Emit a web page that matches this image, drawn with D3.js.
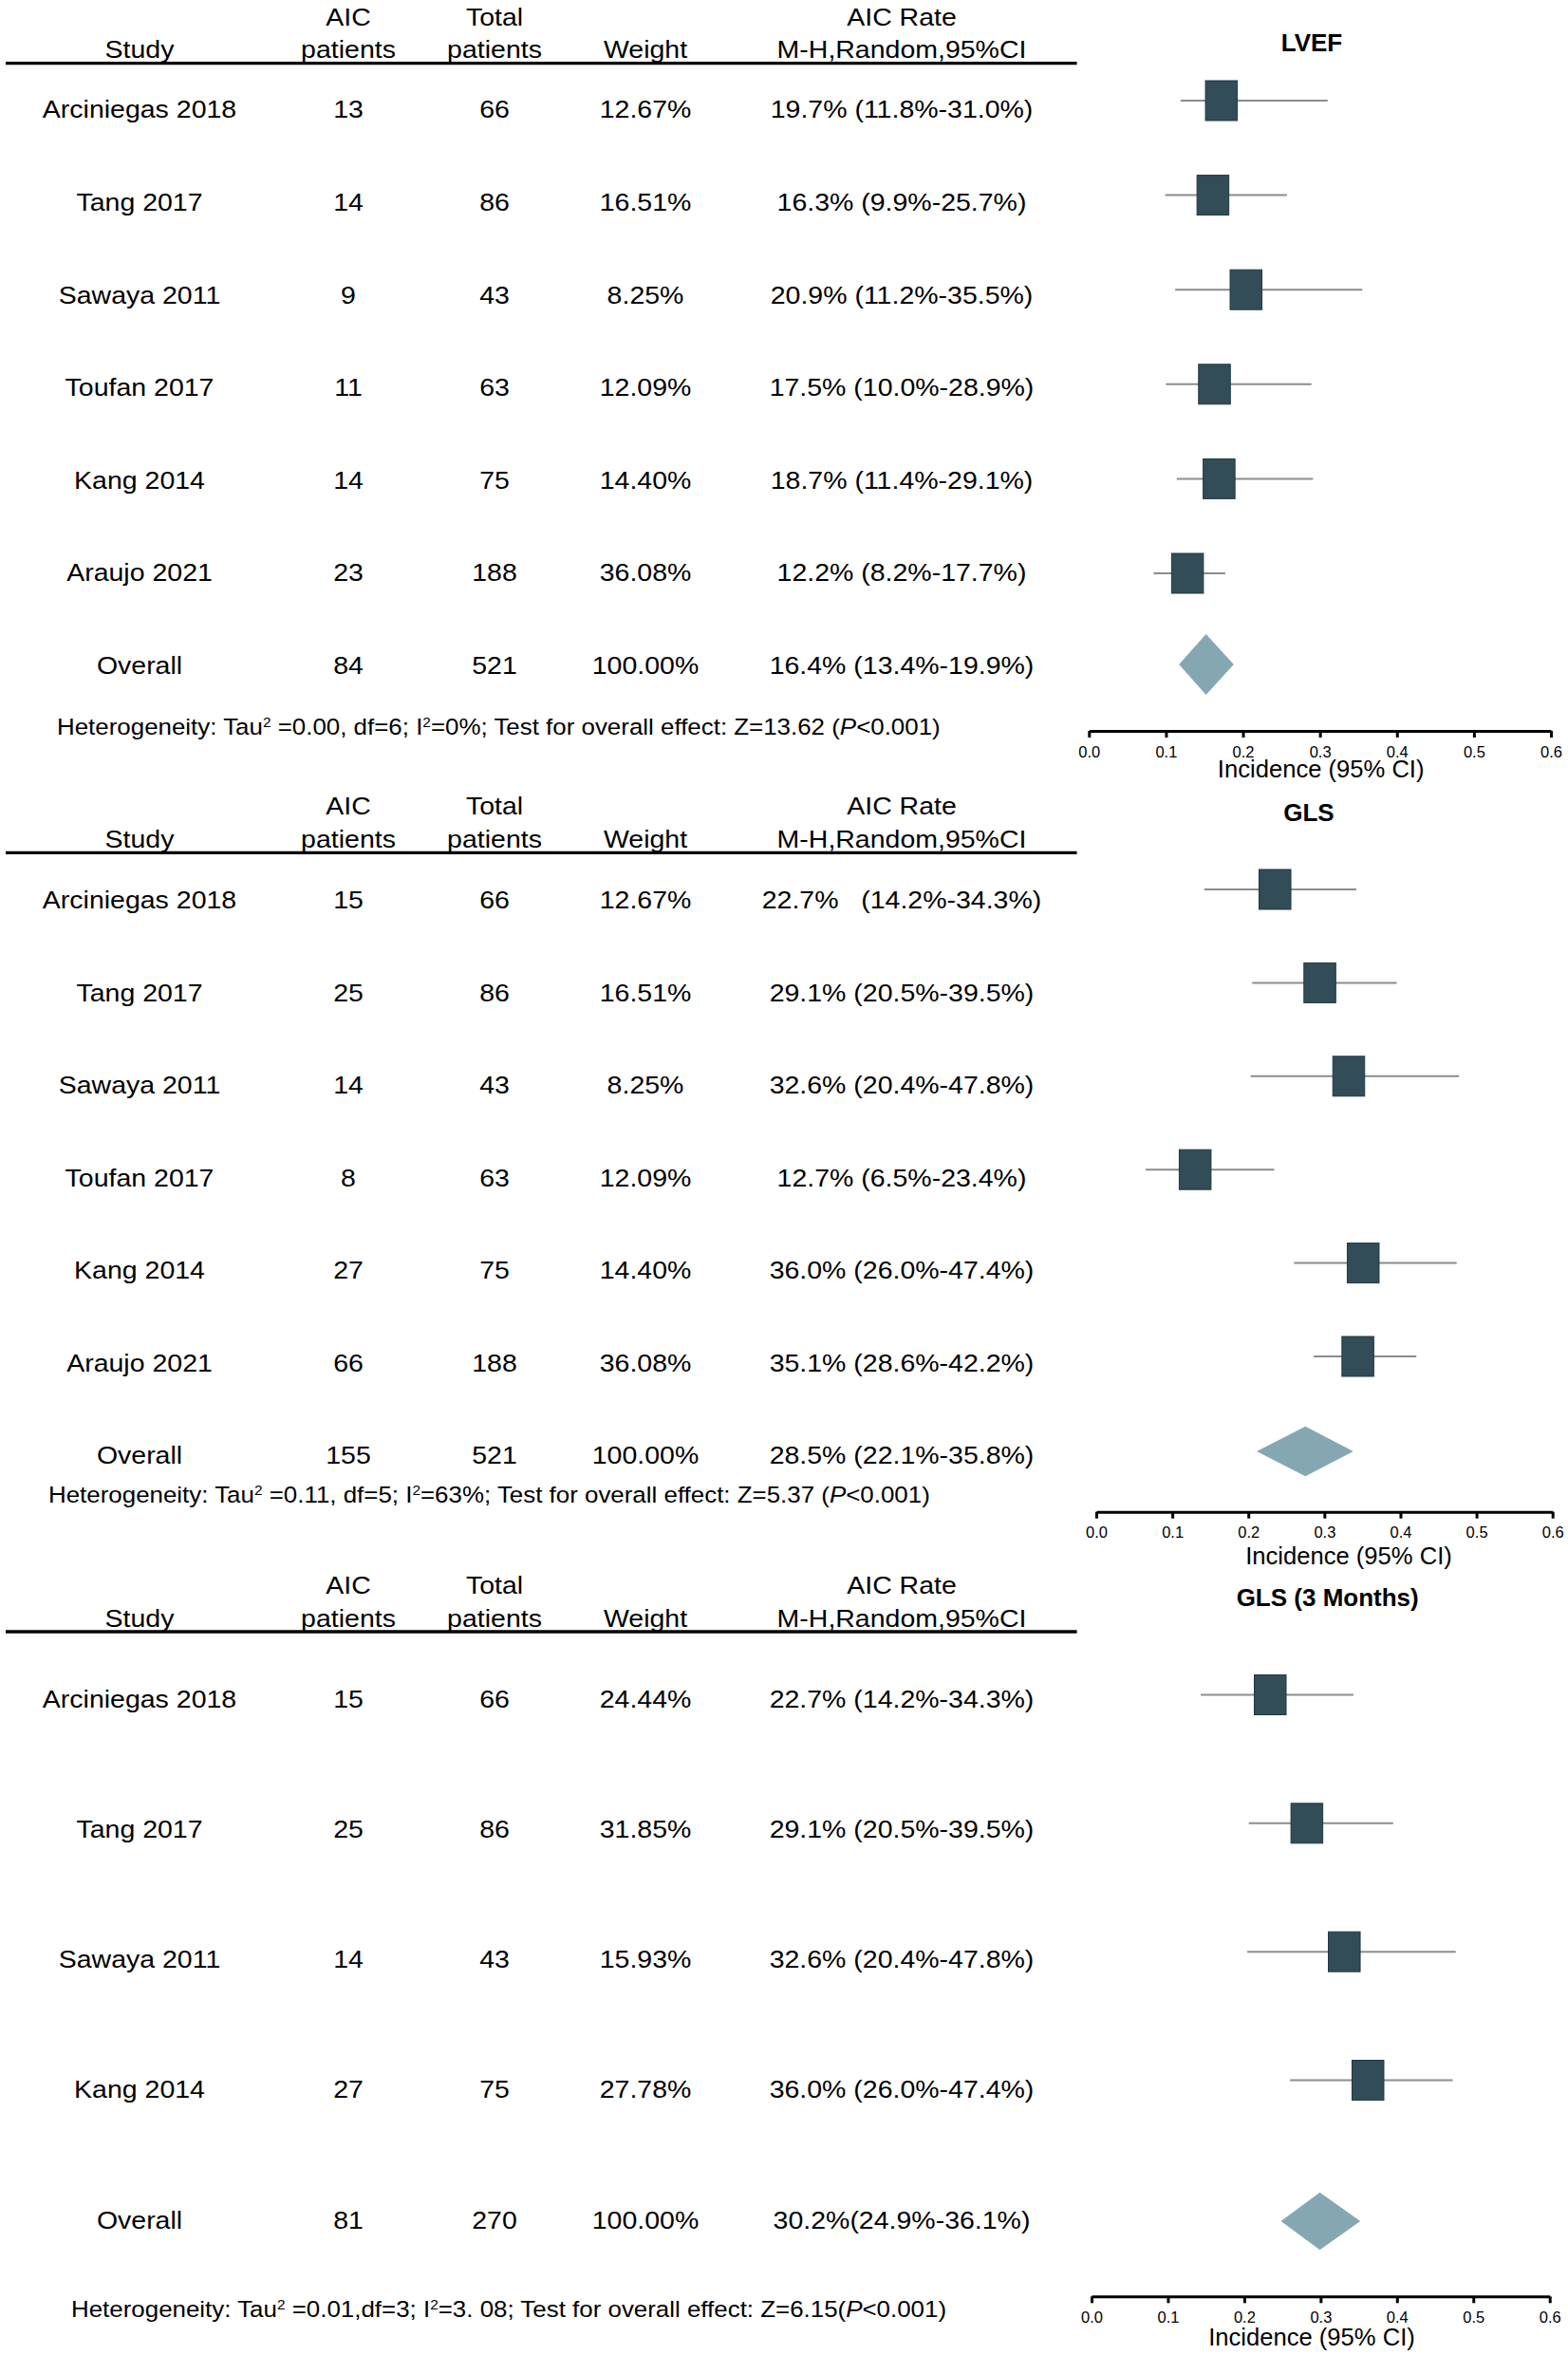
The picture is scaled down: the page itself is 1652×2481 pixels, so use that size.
<!DOCTYPE html>
<html>
<head>
<meta charset="utf-8">
<script src="https://cdn.jsdelivr.net/npm/d3@7"></script>
<style>
    body { margin: 0; background: #fff; }
    svg text { font-family: "Liberation Sans", Arial, sans-serif; fill: #000; }
</style>
</head>
<body>
<div id="chart"></div>
<script>
// 表のデータ (LVEF)
const studiesA = ["Arciniegas 2018", "Tang 2017", "Sawaya 2011", "Toufan 2017", "Kang 2014", "Araujo 2021"];
const aicA = [13, 14, 9, 11, 14, 23];
const totalA = [66, 86, 43, 63, 75, 188];
const weightA = ["12.67%", "16.51%", "8.25%", "12.09%", "14.40%", "36.08%"];
const rateA = ["19.7% (11.8%-31.0%)", "16.3% (9.9%-25.7%)", "20.9% (11.2%-35.5%)", "17.5% (10.0%-28.9%)", "18.7% (11.4%-29.1%)", "12.2% (8.2%-17.7%)"];
const estA = [0.172, 0.161, 0.204, 0.163, 0.169, 0.128];
const loA = [0.119, 0.099, 0.112, 0.100, 0.114, 0.084];
const hiA = [0.310, 0.257, 0.355, 0.289, 0.291, 0.177];
const overallA = ["Overall", 84, 521, "100.00%", "16.4% (13.4%-19.9%)"];
const pooledA = [0.117, 0.152, 0.188];
const hetA = "Heterogeneity: Tau^2 =0.00, df=6; I^2=0%; Test for overall effect: Z=13.62 (*P*<0.001)";

// GLS
const studiesB = ["Arciniegas 2018", "Tang 2017", "Sawaya 2011", "Toufan 2017", "Kang 2014", "Araujo 2021"];
const aicB = [15, 25, 14, 8, 27, 66];
const totalB = [66, 86, 43, 63, 75, 188];
const weightB = ["12.67%", "16.51%", "8.25%", "12.09%", "14.40%", "36.08%"];
const rateB = ["22.7%   (14.2%-34.3%)", "29.1% (20.5%-39.5%)", "32.6% (20.4%-47.8%)", "12.7% (6.5%-23.4%)", "36.0% (26.0%-47.4%)", "35.1% (28.6%-42.2%)"];
const estB = [0.235, 0.294, 0.332, 0.130, 0.351, 0.344];
const loB = [0.142, 0.205, 0.203, 0.065, 0.260, 0.286];
const hiB = [0.342, 0.395, 0.477, 0.234, 0.474, 0.421];
const overallB = ["Overall", 155, 521, "100.00%", "28.5% (22.1%-35.8%)"];
const pooledB = [0.211, 0.275, 0.338];
const hetB = "Heterogeneity: Tau^2 =0.11, df=5; I^2=63%; Test for overall effect: Z=5.37 (*P*<0.001)";

// GLS (3 Months)
const studiesC = ["Arciniegas 2018", "Tang 2017", "Sawaya 2011", "Kang 2014"];
const aicC = [15, 25, 14, 27];
const totalC = [66, 86, 43, 75];
const weightC = ["24.44%", "31.85%", "15.93%", "27.78%"];
const rateC = ["22.7% (14.2%-34.3%)", "29.1% (20.5%-39.5%)", "32.6% (20.4%-47.8%)", "36.0% (26.0%-47.4%)"];
const estC = [0.234, 0.282, 0.331, 0.362];
const loC = [0.143, 0.206, 0.204, 0.260];
const hiC = [0.343, 0.395, 0.477, 0.473];
const overallC = ["Overall", 81, 270, "100.00%", "30.2%(24.9%-36.1%)"];
const pooledC = [0.248, 0.299, 0.352];
const hetC = "Heterogeneity: Tau^2 =0.01,df=3; I^2=3. 08; Test for overall effect: Z=6.15(*P*<0.001)";

const headTop = ["", "AIC", "Total", "", "AIC Rate"];
const headBottom = ["Study", "patients", "patients", "Weight", "M-H,Random,95%CI"];
const ticks = [0, 0.1, 0.2, 0.3, 0.4, 0.5, 0.6];
const axisLabel = "Incidence (95% CI)";

const panels = [
    { title: "LVEF", studies: studiesA, aic: aicA, total: totalA, weight: weightA, rate: rateA,
      est: estA, lo: loA, hi: hiA, overall: overallA, pooled: pooledA, het: hetA },
    { title: "GLS", studies: studiesB, aic: aicB, total: totalB, weight: weightB, rate: rateB,
      est: estB, lo: loB, hi: hiB, overall: overallB, pooled: pooledB, het: hetB },
    { title: "GLS (3 Months)", studies: studiesC, aic: aicC, total: totalC, weight: weightC, rate: rateC,
      est: estC, lo: loC, hi: hiC, overall: overallC, pooled: pooledC, het: hetC }
];

// レイアウト
const layouts = [
    { line: 66.7, tableY: [115.5, 701], plotY: [106, 604], diaY: 700, axisY: 770, axisX: [1147.3, 1634],
      axisTitle: [1391.7, 819], diaH: 64, title: [1382, 54], het: [60, 774] },
    { line: 898.3, tableY: [948, 1533.4], plotY: [937, 1429], diaY: 1529, axisY: 1592.7, axisX: [1155, 1635.7],
      axisTitle: [1421, 1647.5], diaH: 52.6, title: [1379, 865], het: [51, 1583.3] },
    { line: 1719, tableY: [1789.7, 2338.8], plotY: [1785.5, 2191.5], diaY: 2340, axisY: 2419.3, axisX: [1150, 1632.7],
      axisTitle: [1382, 2470.9], diaH: 60.7, title: [1398.7, 1692], het: [75, 2440.5] }
];

const colX = [147, 367, 521, 680, 950];
const fs = 25;       // table font size
const stretch = 1.14;
const boxW = 33.5, boxH = 42;

const svg = d3.select("#chart").append("svg")
    .attr("width", 1652)
    .attr("height", 2481);

function cell(g, x, y, txt) {
    g.append("text")
        .attr("transform", `translate(${x},${y}) scale(${stretch},1)`)
        .attr("text-anchor", "middle")
        .attr("xml:space", "preserve")
        .style("white-space", "pre")
        .style("font-size", fs + "px")
        .text(txt);
}

function hetText(g, str, x, y) {
    const t = g.append("text")
        .attr("transform", `translate(${x},${y}) scale(1.103,1)`)
        .attr("xml:space", "preserve")
        .style("white-space", "pre")
        .style("font-size", "23.5px");
    let back = 0;
    str.split(/(\^2|\*P\*)/).filter(s => s !== "").forEach(part => {
        const s = t.append("tspan");
        if (back) { s.attr("dy", back); back = 0; }
        if (part === "^2") {
            s.attr("dy", -8).style("font-size", "14px").text("2");
            back = 8;
        } else if (part === "*P*") {
            s.style("font-style", "italic").text("P");
        } else {
            s.text(part);
        }
    });
}

panels.forEach((p, k) => {
    const L = layouts[k];
    const g = svg.append("g");

    // ヘッダー
    colX.forEach((x, i) => {
        if (headTop[i]) cell(g, x, L.line - 40, headTop[i]);
        cell(g, x, L.line - 5.5, headBottom[i]);
    });
    g.append("line")
        .attr("x1", 6).attr("x2", 1134.6)
        .attr("y1", L.line).attr("y2", L.line)
        .attr("stroke", "#000")
        .attr("stroke-width", 3.3);

    // 表の行
    const rows = p.studies.map((s, i) => [s, p.aic[i], p.total[i], p.weight[i], p.rate[i]]).concat([p.overall]);
    const yT = d3.scalePoint().domain(d3.range(rows.length)).range(L.tableY);
    rows.forEach((r, i) => {
        r.forEach((v, j) => cell(g, colX[j], yT(i) + 0.358 * fs, v));
    });

    hetText(g, p.het, L.het[0], L.het[1]);

    // フォレストプロット
    const x = d3.scaleLinear().domain([0, 0.6]).range(L.axisX);
    const yP = d3.scalePoint().domain(d3.range(p.studies.length)).range(L.plotY);
    const pts = p.est.map((e, i) => ({ e, lo: p.lo[i], hi: p.hi[i], i }));

    g.append("text")
        .attr("x", L.title[0]).attr("y", L.title[1])
        .attr("text-anchor", "middle")
        .style("font-size", "26px")
        .style("font-weight", "bold")
        .text(p.title);

    g.selectAll(".ci")
        .data(pts)
        .join("line")
        .attr("class", "ci")
        .attr("x1", d => x(d.lo)).attr("x2", d => x(d.hi))
        .attr("y1", d => yP(d.i)).attr("y2", d => yP(d.i))
        .attr("stroke", "#8c8c8c")
        .attr("stroke-width", 2);

    g.selectAll(".box")
        .data(pts)
        .join("rect")
        .attr("class", "box")
        .attr("x", d => x(d.e) - boxW / 2)
        .attr("y", d => yP(d.i) - boxH / 2)
        .attr("width", boxW)
        .attr("height", boxH)
        .attr("fill", "#324d58")
        .attr("stroke", "#1f3742")
        .attr("stroke-width", 1);

    const yd = L.diaY;
    const [dl, dm, dh] = p.pooled;
    g.append("polygon")
        .attr("points", [[x(dl), yd], [x(dm), yd - L.diaH / 2], [x(dh), yd], [x(dm), yd + L.diaH / 2]].join(" "))
        .attr("fill", "#85a7b2");

    // 軸
    const ga = g.append("g")
        .attr("transform", `translate(0,${L.axisY})`)
        .call(d3.axisBottom(x)
            .tickValues(ticks)
            .tickFormat(d3.format(".1f"))
            .tickSize(7)
            .tickSizeOuter(0)
            .tickPadding(9));
    ga.select(".domain").attr("stroke", "#000").attr("stroke-width", 3);
    ga.selectAll(".tick line").attr("stroke", "#000").attr("stroke-width", 3);
    ga.selectAll(".tick text").style("font-size", "16.5px");

    g.append("text")
        .attr("x", L.axisTitle[0]).attr("y", L.axisTitle[1])
        .attr("text-anchor", "middle")
        .style("font-size", "25.6px")
        .text(axisLabel);
});
</script>
</body>
</html>
